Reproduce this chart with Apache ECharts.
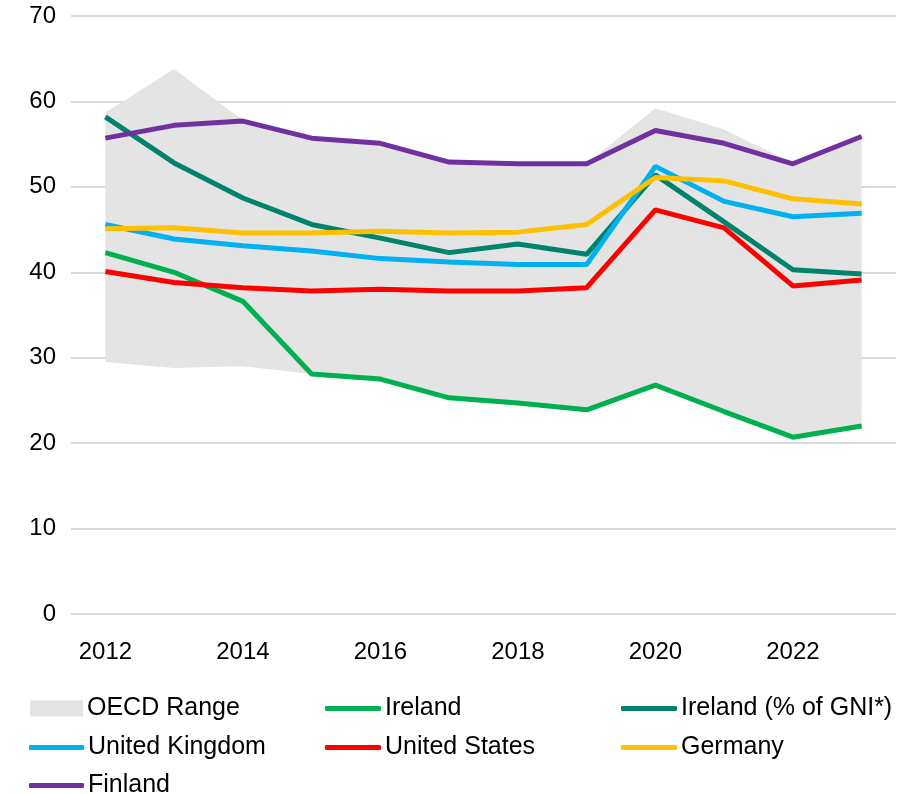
<!DOCTYPE html>
<html>
<head>
<meta charset="utf-8">
<script src="https://cdn.jsdelivr.net/npm/echarts@6/dist/echarts.min.js"></script>
<style>
  html, body { margin: 0; padding: 0; background: #fff; }
  #chart { width: 906px; height: 794px; }
</style>
</head>
<body>
<div id="chart"></div>
<script>
const years = ['2012', '2013', '2014', '2015', '2016', '2017', '2018', '2019', '2020', '2021', '2022', '2023']
const oecdMin = [29.5, 28.8, 29.0, 28.1, 27.5, 25.3, 24.7, 23.9, 26.8, 23.7, 20.7, 22.0]
const oecdMax = [58.7, 63.8, 57.8, 55.7, 55.1, 52.9, 52.7, 52.7, 59.2, 56.7, 52.8, 56.0]
const ireland = [42.3, 40.0, 36.6, 28.1, 27.5, 25.3, 24.7, 23.9, 26.8, 23.7, 20.7, 22.0]
const irelandGni = [58.2, 52.8, 48.7, 45.6, 44.0, 42.3, 43.3, 42.1, 51.4, 45.9, 40.3, 39.8]
const unitedKingdom = [45.6, 43.9, 43.1, 42.5, 41.6, 41.2, 40.9, 40.9, 52.4, 48.3, 46.5, 46.9]
const unitedStates = [40.1, 38.8, 38.2, 37.8, 38.0, 37.8, 37.8, 38.2, 47.3, 45.2, 38.4, 39.1]
const germany = [45.1, 45.2, 44.6, 44.6, 44.8, 44.6, 44.7, 45.6, 51.1, 50.7, 48.6, 48.0]
const finland = [55.7, 57.2, 57.7, 55.7, 55.1, 52.9, 52.7, 52.7, 56.6, 55.1, 52.7, 55.9]

const myChart = echarts.init(document.getElementById('chart'))

// 图例：每个格子单独放，保证三列对齐
function legendCell(name, left, centerY, icon, w, h) {
  return {
    left: left,
    top: centerY - 10,
    padding: 0,
    icon: icon,
    itemWidth: w,
    itemHeight: h,
    selectedMode: false,
    textStyle: {
      fontFamily: 'Liberation Sans',
      fontSize: 25,
      color: '#000',
      padding: [0, 0, 0, -1]
    },
    data: [name]
  }
}

function lineSeries(name, data, color) {
  return {
    name: name,
    type: 'line',
    data: data,
    symbol: 'none',
    lineStyle: { color: color, width: 5 },
    itemStyle: { color: color }
  }
}

const option = {
  animation: false,
  grid: { left: 71, right: 10, top: 16, bottom: 180 },
  legend: [
    legendCell('OECD Range', 30, 706, 'rect', 53, 16),
    legendCell('Ireland', 325, 706, 'roundRect', 56, 5),
    legendCell('Ireland (% of GNI*)', 621, 706, 'roundRect', 56, 5),
    legendCell('United Kingdom', 29, 745, 'roundRect', 55, 5),
    legendCell('United States', 325, 745, 'roundRect', 56, 5),
    legendCell('Germany', 621, 745, 'roundRect', 56, 5),
    legendCell('Finland', 29, 783, 'roundRect', 55, 5)
  ],
  xAxis: {
    type: 'category',
    data: years,
    boundaryGap: true,
    axisTick: { show: false },
    axisLine: { show: false },
    axisLabel: {
      interval: 1,
      margin: 26,
      fontFamily: 'Liberation Sans',
      fontSize: 24,
      color: '#000'
    }
  },
  yAxis: {
    type: 'value',
    min: 0,
    max: 70,
    interval: 10,
    axisLabel: {
      margin: 15,
      fontFamily: 'Liberation Sans',
      fontSize: 24,
      color: '#000'
    },
    splitLine: { lineStyle: { color: '#d9d9d9', width: 2 } }
  },
  series: [
    {
      name: 'OECD min',
      type: 'line',
      stack: 'range',
      data: oecdMin,
      symbol: 'none',
      lineStyle: { width: 0, opacity: 0 }
    },
    {
      name: 'OECD Range',
      type: 'line',
      stack: 'range',
      data: oecdMax.map((v, i) => +(v - oecdMin[i]).toFixed(1)),
      symbol: 'none',
      lineStyle: { width: 0, opacity: 0 },
      itemStyle: { color: '#e4e4e4' },
      areaStyle: { color: '#e4e4e4', opacity: 1 }
    },
    lineSeries('Ireland', ireland, '#00b050'),
    lineSeries('Ireland (% of GNI*)', irelandGni, '#00836b'),
    lineSeries('United Kingdom', unitedKingdom, '#00b0f0'),
    lineSeries('United States', unitedStates, '#ff0000'),
    lineSeries('Germany', germany, '#ffc000'),
    lineSeries('Finland', finland, '#7030a0')
  ]
}

option && myChart.setOption(option)
</script>
</body>
</html>
